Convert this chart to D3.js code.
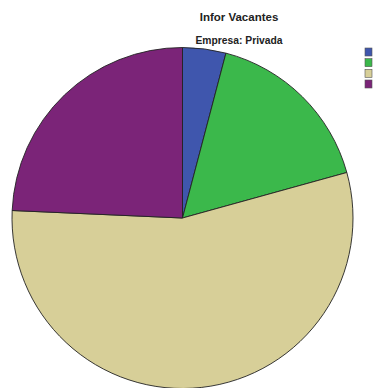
<!DOCTYPE html>
<html>
<head>
<meta charset="utf-8">
<script src="https://cdn.jsdelivr.net/npm/d3@7/dist/d3.min.js"></script>
<style>
  html, body { margin: 0; padding: 0; background: #fff; }
  svg { display: block; }
</style>
</head>
<body>
<svg id="chart" width="375" height="388"></svg>
<script>
// Vacancy information, private companies (share of responses, %)
const categories = ["Cat 1", "Cat 2", "Cat 3", "Cat 4"];
const values = [4.1, 16.6, 55.0, 24.3];
const colors = ["#3f56ad", "#3bb84b", "#d7cf98", "#7b2478"];

const title = "Infor Vacantes";
const subtitle = "Empresa: Privada";

const svg = d3.select("#chart");
const cx = 182.5, cy = 218, r = 170.5;

const pie = d3.pie().sort(null).value(d => d)(values);
const arc = d3.arc().innerRadius(0).outerRadius(r);

svg.append("g")
  .attr("transform", `translate(${cx},${cy})`)
  .selectAll("path")
  .data(pie)
  .join("path")
  .attr("d", arc)
  .attr("fill", (d, i) => colors[i])
  .attr("stroke", "#222")
  .attr("stroke-width", 0.9)
  .attr("stroke-linejoin", "round");

svg.append("text")
  .attr("x", 239).attr("y", 21)
  .attr("text-anchor", "middle")
  .attr("font-family", "Liberation Sans, Arial, sans-serif")
  .attr("font-weight", "bold")
  .attr("font-size", 11.5)
  .attr("fill", "#222")
  .text(title);

svg.append("text")
  .attr("x", 239).attr("y", 44)
  .attr("text-anchor", "middle")
  .attr("font-family", "Liberation Sans, Arial, sans-serif")
  .attr("font-weight", "bold")
  .attr("font-size", 10.3)
  .attr("fill", "#222")
  .text(subtitle);

// Legend swatches
const ly = d3.scaleBand().domain(categories).range([48, 88]).paddingInner(0.25);
svg.append("g")
  .selectAll("rect")
  .data(categories)
  .join("rect")
  .attr("x", 365)
  .attr("y", d => ly(d))
  .attr("width", 7)
  .attr("height", ly.bandwidth())
  .attr("fill", (d, i) => colors[i])
  .attr("stroke", "#555")
  .attr("stroke-width", 0.6);
</script>
</body>
</html>
